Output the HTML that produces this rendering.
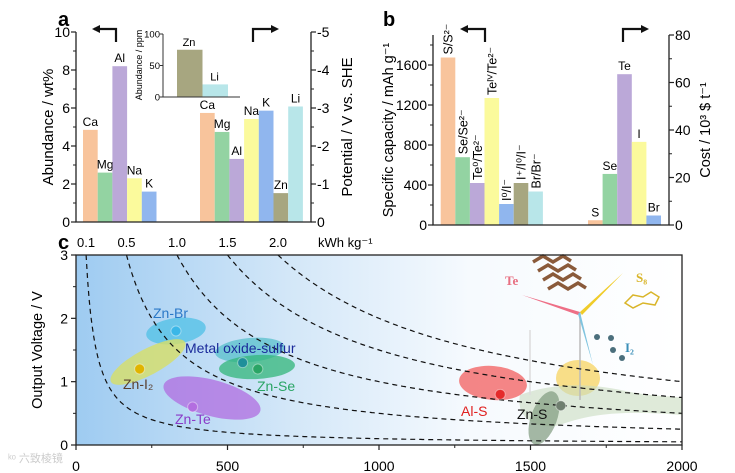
<!DOCTYPE html>
<html><head><meta charset="utf-8"><style>
body{margin:0;background:#fff}
svg{display:block;font-family:"Liberation Sans",Arial,sans-serif}
</style></head><body>
<svg id="fig" width="735" height="473" viewBox="0 0 735 473">
<defs>
<linearGradient id="bg" x1="0" x2="1" y1="0" y2="0">
<stop offset="0" stop-color="#9ecbf1"/><stop offset="0.35" stop-color="#d3e7f8"/><stop offset="0.65" stop-color="#f6fafe"/><stop offset="1" stop-color="#ffffff"/>
</linearGradient>
</defs>
<g id="pa"></g>
<g id="pb"></g>
<g id="pc"></g>
</svg>
<script>
// Panel a data
const aElems1 = ["Ca","Mg","Al","Na","K"];
const aAbund = [4.85,2.6,8.2,2.3,1.6];
const aElems2 = ["Ca","Mg","Al","Na","K","Zn","Li"];
const aPot = [-2.87,-2.37,-1.66,-2.71,-2.93,-0.76,-3.04];
const insetElems = ["Zn","Li"];
const insetVals = [75,20];
const aLeftTicks = [0,2,4,6,8,10];
const aRightTicks = [0,-1,-2,-3,-4,-5];
// Panel b data
const bLabels = ["S/S²⁻","Se/Se²⁻","Te⁰/Te²⁻","Teᴵⱽ/Te²⁻","I⁰/I⁻","I⁺/I⁰/I⁻","Br/Br⁻"];
const bCap = [1675,678,420,1270,210,420,335];
const bCostLabels = ["S","Se","Te","I","Br"];
const bCost = [2,21.5,63.5,35,4];
const bLeftTicks = [0,400,800,1200,1600];
const bRightTicks = [0,20,40,60,80];
// Panel c data
const cEnergy = [0.1,0.5,1.0,1.5,2.0];
const cSystems = ["Zn-Br","Zn-I2","Metal oxide-sulfur","Zn-Se","Zn-Te","Al-S","Zn-S"];
const cCap = [330,210,550,600,385,1400,1600];
const cVolt = [1.8,1.2,1.3,1.2,0.6,0.8,0.62];
const cXTicks = [0,500,1000,1500,2000];
const cYTicks = [0,1,2,3];

const NS="http://www.w3.org/2000/svg";
function mk(parent,tag,attrs,text){const e=document.createElementNS(NS,tag);for(const k in attrs)e.setAttribute(k,attrs[k]);if(text!==undefined)e.textContent=text;parent.appendChild(e);return e;}
const colors={Ca:"#f8c49c",Mg:"#93d3a2",Al:"#bba8d8",Na:"#fbfa9c",K:"#90b6ee",Zn:"#a7a680",Li:"#b8e6e9"};

// ===== Panel a =====
const pa=document.getElementById('pa');
const aY0=222,aY10=32,aXL=76,aXR=311;
const ayL=v=>aY0-(v/10)*(aY0-aY10);
const ayR=v=>aY0-(-v/5)*(aY0-aY10);
const bw=14.7;
let t=mk(pa,'text',{x:58,y:26,'font-size':20,'font-weight':'bold'},'a');

aElems1.forEach((el,i)=>{const x=83+i*bw;
 let r=mk(pa,'rect',{x:x,y:ayL(aAbund[i]),width:bw,height:aY0-ayL(aAbund[i]),fill:colors[el]});
 
 let l=mk(pa,'text',{x:x+bw/2,y:ayL(aAbund[i])-4,'font-size':12,'text-anchor':'middle'},el);
 
});
aElems2.forEach((el,i)=>{const x=200+i*bw;
 let r=mk(pa,'rect',{x:x,y:ayR(aPot[i]),width:bw,height:aY0-ayR(aPot[i]),fill:colors[el]});
 
 let l=mk(pa,'text',{x:x+bw/2,y:ayR(aPot[i])-4,'font-size':12,'text-anchor':'middle'},el);
 
});
mk(pa,'path',{d:`M${aXL} ${aY10} V${aY0} H${aXR} V${aY10}`,fill:'none',stroke:'#222','stroke-width':1.3});
aLeftTicks.forEach(v=>{const y=ayL(v);mk(pa,'line',{x1:aXL,x2:aXL-5,y1:y,y2:y,stroke:'#222','stroke-width':1.2});
 let l=mk(pa,'text',{x:aXL-6,y:y+5,'font-size':14,'text-anchor':'end'},v);
 if(v<10)mk(pa,'line',{x1:aXL,x2:aXL-3,y1:ayL(v+1),y2:ayL(v+1),stroke:'#222'});});
aRightTicks.forEach(v=>{const y=ayR(v);mk(pa,'line',{x1:aXR,x2:aXR+5,y1:y,y2:y,stroke:'#222','stroke-width':1.2});
 let l=mk(pa,'text',{x:aXR+6,y:y+5,'font-size':14},v);
 if(v>-5)mk(pa,'line',{x1:aXR,x2:aXR+3,y1:ayR(v-0.5),y2:ayR(v-0.5),stroke:'#222'});});
t=mk(pa,'text',{transform:'translate(53,127) rotate(-90)','font-size':15,'text-anchor':'middle'},'Abundance / wt%');

t=mk(pa,'text',{transform:'translate(352,127) rotate(-90)','font-size':15,'text-anchor':'middle'},'Potential / V vs. SHE');

mk(pa,'path',{d:'M116 42 V29 H94',fill:'none',stroke:'#111','stroke-width':2.2});
mk(pa,'path',{d:'M92 29 l8 -4 v8z',fill:'#111'});
mk(pa,'path',{d:'M253 42 V29 H275',fill:'none',stroke:'#111','stroke-width':2.2});
mk(pa,'path',{d:'M279 29 l-8 -4 v8z',fill:'#111'});
// inset
const iY0=97,iY100=34;const iy=v=>iY0-v/100*(iY0-iY100);
insetElems.forEach((el,i)=>{const x=177+i*25.5;
 let r=mk(pa,'rect',{x:x,y:iy(insetVals[i]),width:25.5,height:iY0-iy(insetVals[i]),fill:colors[el]});
 
 mk(pa,'text',{x:x+12,y:iy(insetVals[i])-4,'font-size':11,'text-anchor':'middle'},el);});
mk(pa,'path',{d:`M163 ${iY100} V${iY0} H240`,fill:'none',stroke:'#333','stroke-width':1});
[0,50,100].forEach(v=>{mk(pa,'line',{x1:163,x2:160,y1:iy(v),y2:iy(v),stroke:'#333'});
 mk(pa,'text',{x:160,y:iy(v)+3.5,'font-size':9.5,'text-anchor':'end'},v);});
t=mk(pa,'text',{transform:'translate(142,65) rotate(-90)','font-size':9,'text-anchor':'middle'},'Abundance / ppm');


// ===== Panel b =====
const pb=document.getElementById('pb');
const bY0=225,bXL=433,bXR=669;
const byL=v=>bY0-v*0.1;
const byR=v=>bY0-v*(190/80);
const bcL=["#f8c49c","#93d3a2","#bba8d8","#fbfa9c","#90b6ee","#a7a680","#b8e6e9"];
const bcR=["#f8c49c","#93d3a2","#bba8d8","#fbfa9c","#90b6ee"];
t=mk(pb,'text',{x:383,y:26,'font-size':20,'font-weight':'bold'},'b');

bCap.forEach((v,i)=>{const x=440.7+i*14.6;
 let r=mk(pb,'rect',{x:x,y:byL(v),width:14.6,height:bY0-byL(v),fill:bcL[i]});
 
 let l=mk(pb,'text',{transform:`translate(${x+12},${byL(v)-3}) rotate(-90)`,'font-size':12.5},bLabels[i]);
 });
bCost.forEach((v,i)=>{const x=588+i*14.6;
 let r=mk(pb,'rect',{x:x,y:byR(v),width:14.6,height:bY0-byR(v),fill:bcR[i]});
 
 let l=mk(pb,'text',{x:x+7.3,y:byR(v)-4,'font-size':12,'text-anchor':'middle'},bCostLabels[i]);
 });
mk(pb,'path',{d:`M${bXL} 35 V${bY0} H${bXR} V35`,fill:'none',stroke:'#222','stroke-width':1.3});
bLeftTicks.forEach(v=>{const y=byL(v);mk(pb,'line',{x1:bXL,x2:bXL-5,y1:y,y2:y,stroke:'#222','stroke-width':1.2});
 mk(pb,'line',{x1:bXL,x2:bXL-3,y1:byL(v+200),y2:byL(v+200),stroke:'#222'});
 let l=mk(pb,'text',{x:bXL-6,y:y+5,'font-size':14,'text-anchor':'end'},v);});
bRightTicks.forEach(v=>{const y=byR(v);mk(pb,'line',{x1:bXR,x2:bXR+5,y1:y,y2:y,stroke:'#222','stroke-width':1.2});
 if(v<80)mk(pb,'line',{x1:bXR,x2:bXR+3,y1:byR(v+10),y2:byR(v+10),stroke:'#222'});
 let l=mk(pb,'text',{x:bXR+6,y:y+5,'font-size':14},v);});
t=mk(pb,'text',{transform:'translate(393,130) rotate(-90)','font-size':14.5,'text-anchor':'middle'},'Specific capacity / mAh g⁻¹');

t=mk(pb,'text',{transform:'translate(710,130) rotate(-90)','font-size':14.5,'text-anchor':'middle'},'Cost / 10³ $ t⁻¹');

mk(pb,'path',{d:'M485 42 V29 H463',fill:'none',stroke:'#111','stroke-width':2.2});
mk(pb,'path',{d:'M460 29 l8 -4 v8z',fill:'#111'});
mk(pb,'path',{d:'M623 42 V29 H645',fill:'none',stroke:'#111','stroke-width':2.2});
mk(pb,'path',{d:'M649 29 l-8 -4 v8z',fill:'#111'});

// ===== Panel c =====
const pc=document.getElementById('pc');
const cXL=76,cXR=682,cYT=255,cYB=445;
const cx=v=>cXL+v/2000*(cXR-cXL);
const cy=v=>cYB-v/3*(cYB-cYT);
t=mk(pc,'text',{x:58,y:249,'font-size':20,'font-weight':'bold'},'c');

let bg=mk(pc,'rect',{x:cXL,y:cYT,width:cXR-cXL,height:cYB-cYT,fill:'url(#bg)'});

// decorations
mk(pc,'ellipse',{cx:578,cy:378,rx:22,ry:18,fill:'#f7d66a',opacity:0.8});
mk(pc,'path',{d:'M520 395 C560 380 600 385 630 392 C660 398 682 395 682 400 V415 C640 412 600 410 560 425 C540 430 515 420 520 395Z',fill:'#c9dcc0',opacity:0.6});
mk(pc,'line',{x1:580,y1:312,x2:580,y2:400,stroke:'#bbb','stroke-width':1.5});
mk(pc,'line',{x1:530,y1:330,x2:530,y2:395,stroke:'#ddd','stroke-width':1.5});
mk(pc,'path',{d:'M580 312 L522 295 L578 315Z',fill:'#ee6f86'});
mk(pc,'path',{d:'M580 312 L623 273 L582 315Z',fill:'#f0cc2a'});
mk(pc,'path',{d:'M580 312 L593 365 L578 314Z',fill:'#7fc4df'});
t=mk(pc,'text',{x:505,y:285,'font-size':13,'font-family':'Liberation Serif',fill:'#e87082','font-weight':'bold'},'Te');

for(let k=0;k<4;k++)mk(pc,'path',{d:`M${533+k*5} ${262+k*9} l10 -6 l10 6 l10 -6 l8 5`,fill:'none',stroke:'#8a5a3a','stroke-width':3.5});
t=mk(pc,'text',{x:636,y:282,'font-size':13,'font-family':'Liberation Serif',fill:'#d9b52a','font-weight':'bold'},'S₈');

mk(pc,'path',{d:'M625 303 l8 -8 l10 2 l8 -5 l8 5 l-4 8 l-12 -2 l-10 5z',fill:'none',stroke:'#d9b52a','stroke-width':1.5});
t=mk(pc,'text',{x:625,y:352,'font-size':13,'font-family':'Liberation Serif',fill:'#3a8fb8','font-weight':'bold'},'I₂');

[[597,337],[611,338],[613,350],[622,358]].forEach(p=>mk(pc,'circle',{cx:p[0],cy:p[1],r:3,fill:'#4b6f7c'}));
// ellipses
const ells=[[176,331,30,13,-8,'#4fc0e6',0.75],[148,362,42,13,-28,'#d7df66',0.8],[250,350,35,12,-5,'#3cb7c2',0.6],[257,367,38,12,-3,'#32b57a',0.75],[212,398,50,18,15,'#b06ce0',0.75],[493,383,34,17,5,'#f26868',0.8],[544,418,13,28,20,'#7f9a7e',0.7]];
ells.forEach((e,i)=>{let el=mk(pc,'ellipse',{cx:e[0],cy:e[1],rx:e[2],ry:e[3],fill:e[5],opacity:e[6],transform:`rotate(${e[4]} ${e[0]} ${e[1]})`});
 });
// dashed iso-energy curves
cEnergy.forEach(E=>{let d='';for(let c=E*1000/3;c<=2000;c+=5){const v=E*1000/c;d+=(d?'L':'M')+cx(c).toFixed(1)+' '+cy(v).toFixed(1);}
 let p=mk(pc,'path',{d:d,fill:'none',stroke:'#111','stroke-width':1.2,'stroke-dasharray':'5,4'});
 
 let l=mk(pc,'text',{x:cx(E*1000/3),y:247,'font-size':13,'text-anchor':'middle'},E.toFixed(1));
 });
t=mk(pc,'text',{x:318,y:247,'font-size':13},'kWh kg⁻¹');
// points
const ptCol=['#3ab7e8','#e0b400','#1f8f9a','#2aa565','#b36ee0','#e52a2a','#6f7f6f'];
const lab=[[153,318,'#2a78c8','start'],[123,389,'#5a4030','start'],[185,353,'#1a2a9a','start'],[257,391,'#2aa565','start'],[175,424,'#8a3ac8','start'],[461,416,'#e02020','start'],[517,419,'#111','start']];
const labTxt=['Zn-Br','Zn-I₂','Metal oxide-sulfur','Zn-Se','Zn-Te','Al-S','Zn-S'];
cSystems.forEach((s,i)=>{let p=mk(pc,'circle',{cx:cx(cCap[i]),cy:cy(cVolt[i]),r:5,fill:ptCol[i],stroke:'#fff','stroke-opacity':0.4});
 
 let l=mk(pc,'text',{x:lab[i][0],y:lab[i][1],'font-size':14,fill:lab[i][2]},labTxt[i]);
 });
mk(pc,'rect',{x:cXL,y:cYT,width:cXR-cXL,height:cYB-cYT,fill:'none',stroke:'#222','stroke-width':1.3});
cXTicks.forEach(v=>{mk(pc,'line',{x1:cx(v),x2:cx(v),y1:cYB,y2:cYB+5,stroke:'#222','stroke-width':1.2});
 if(v<2000)mk(pc,'line',{x1:cx(v+250),x2:cx(v+250),y1:cYB,y2:cYB+3,stroke:'#222'});
 let l=mk(pc,'text',{x:cx(v),y:471,'font-size':14,'text-anchor':'middle'},v);});
cYTicks.forEach(v=>{mk(pc,'line',{x1:cXL,x2:cXL-5,y1:cy(v),y2:cy(v),stroke:'#222','stroke-width':1.2});
 if(v<3)mk(pc,'line',{x1:cXL,x2:cXL-3,y1:cy(v+0.5),y2:cy(v+0.5),stroke:'#222'});
 let l=mk(pc,'text',{x:cXL-8,y:cy(v)+5,'font-size':14,'text-anchor':'end'},v);});
t=mk(pc,'text',{transform:'translate(42,350) rotate(-90)','font-size':14.5,'text-anchor':'middle'},'Output Voltage / V');

t=mk(pc,'text',{x:8,y:462,'font-size':11,fill:'#ccc','font-family':'Liberation Sans, Noto Sans CJK SC, sans-serif'},'ᵏᵒ 六致棱镜');

</script>
</body></html>
